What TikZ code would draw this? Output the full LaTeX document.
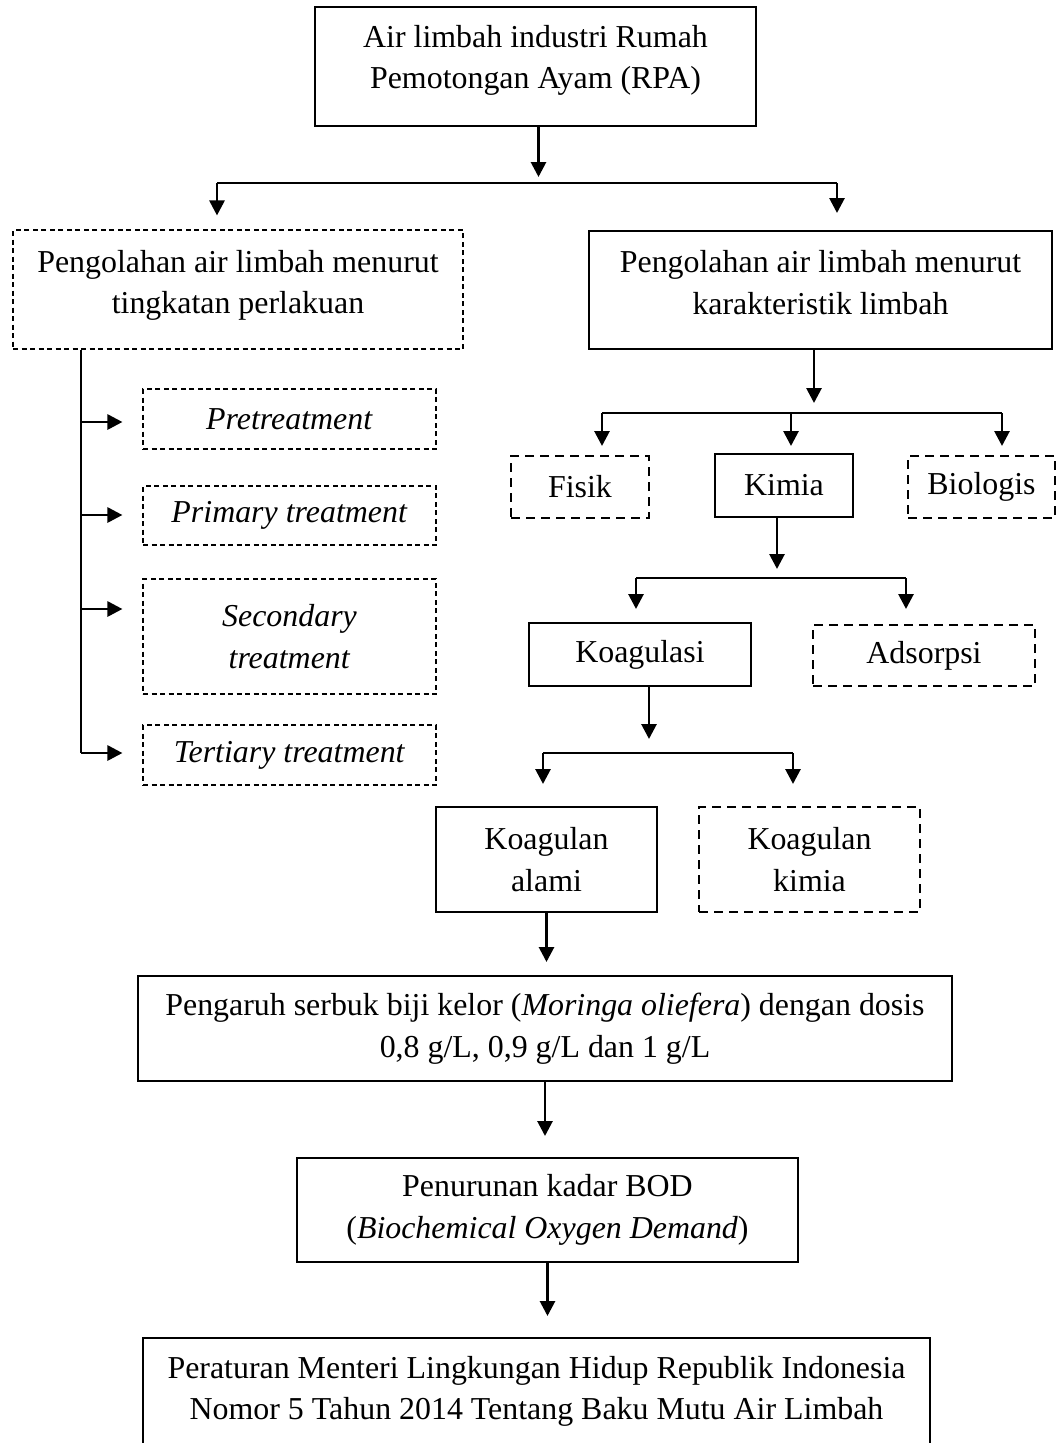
\documentclass[tikz,border=0pt]{standalone}
\usepackage{fontspec}
\setmainfont{Liberation Serif}
\usetikzlibrary{arrows.meta,positioning}

\begin{document}
\begin{tikzpicture}[x=1pt,y=-1pt,
  every node/.style={inner sep=0pt,align=center,font=\fontsize{31.9}{41.5}\selectfont},
  solidbox/.style={draw=black,line width=2pt},
  dashbox/.style={draw=black,line width=2pt,dash pattern=on 9pt off 6pt},
  dotbox/.style={draw=black,line width=1.1pt,dash pattern=on 5pt off 3.5pt},
  conn/.style={-,black,line width=2.8pt},
  arr/.style={conn,-{Triangle[length=15pt,width=15pt]}}]
\useasboundingbox (0,0) rectangle (1057,1443);

\node (top) at (535.5,66.5) [solidbox,minimum width=441pt,minimum height=119pt,text depth=19pt]{Air limbah industri Rumah\\Pemotongan Ayam (RPA)};
\node (tingkat) at (238,289.5) [dotbox,minimum width=450pt,minimum height=119pt,text depth=15pt]{Pengolahan air limbah menurut\\tingkatan perlakuan};
\node (karakter) at (820.5,290) [solidbox,minimum width=463pt,minimum height=118pt,text depth=15pt]{Pengolahan air limbah menurut\\karakteristik limbah};

% tingkatan perlakuan
\node (pre) at (289.5,419) [dotbox,minimum width=293pt,minimum height=60pt]{\textit{Pretreatment}};
\node (prim) at (289.5,515.5) [dotbox,minimum width=293pt,minimum height=59pt]{\textit{Primary treatment}};
\node (sec) at (289.5,636.5) [dotbox,minimum width=293pt,minimum height=115pt]{\textit{Secondary}\\\textit{treatment}};
\node (ter) at (289.5,755) [dotbox,minimum width=293pt,minimum height=60pt]{\textit{Tertiary treatment}};

% karakteristik limbah
\node (fisik) at (580,487) [dashbox,minimum width=138pt,minimum height=62pt]{Fisik};
\node (kimia) at (784,485.5) [solidbox,minimum width=138pt,minimum height=63pt]{Kimia};
\node (bio) at (981.5,487) [dashbox,minimum width=147pt,minimum height=62pt]{Biologis};
\node (koag) at (640,654.5) [solidbox,minimum width=222pt,minimum height=63pt]{Koagulasi};
\node (adsor) at (924,655.5) [dashbox,minimum width=222pt,minimum height=61pt]{Adsorpsi};
\node (alami) at (546.5,859.5) [solidbox,minimum width=221pt,minimum height=105pt]{Koagulan\\alami};
\node (kkimia) at (809.5,859.5) [dashbox,minimum width=221pt,minimum height=105pt]{Koagulan\\kimia};

\node (pengaruh) at (545,1028.5) [solidbox,minimum width=814pt,minimum height=105pt]{Pengaruh serbuk biji kelor (\textit{Moringa oliefera}) dengan dosis\\0,8 g/L, 0,9 g/L dan 1 g/L};
\node (turun) at (547.5,1210) [solidbox,minimum width=501pt,minimum height=104pt]{Penurunan kadar BOD\\(\textit{Biochemical Oxygen Demand})};
\node (aturan) at (536.5,1391.5) [solidbox,minimum width=787pt,minimum height=107pt]{Peraturan Menteri Lingkungan Hidup Republik Indonesia\\Nomor 5 Tahun 2014 Tentang Baku Mutu Air Limbah};

% cabang utama
\coordinate (b1l) at (217,183);
\coordinate (b1r) at (837,183);
\draw[conn] (b1l) -- (b1r);
\draw[arr,shorten >=6pt] ([xshift=3pt]top.south) -- ([xshift=3pt]top.south |- b1l);
\draw[arr,shorten >=14pt] (b1l) -- (b1l |- tingkat.north);
\draw[arr,shorten >=17pt] (b1r) -- (b1r |- karakter.north);

% cabang kiri
\foreach \n/\y in {pre/422,prim/515,sec/609,ter/753}{
  \coordinate (t-\n) at (81,\y);
  \draw[arr,shorten >=20pt] (t-\n) -- (t-\n -| \n.west);
}
\draw[conn] (tingkat.south -| t-pre) -- (t-ter);

% cabang kanan
\coordinate (b2l) at (602,413);
\coordinate (b2m) at (791,413);
\coordinate (b2r) at (1002,413);
\draw[conn] (b2l) -- (b2r);
\draw[arr,shorten >=10pt] ([xshift=-6.5pt]karakter.south) -- ([xshift=-6.5pt]karakter.south |- b2l);
\draw[arr,shorten >=9pt] (b2l) -- (b2l |- fisik.north);
\draw[arr,shorten >=7pt] (b2m) -- (b2m |- kimia.north);
\draw[arr,shorten >=9pt] (b2r) -- (b2r |- bio.north);

\coordinate (b3l) at (636,578);
\coordinate (b3r) at (906,578);
\draw[conn] (b3l) -- (b3r);
\draw[arr,shorten >=9pt] ([xshift=-7pt]kimia.south) -- ([xshift=-7pt]kimia.south |- b3l);
\draw[arr,shorten >=13pt] (b3l) -- (b3l |- koag.north);
\draw[arr,shorten >=15pt] (b3r) -- (b3r |- adsor.north);

\coordinate (b4l) at (543,753);
\coordinate (b4r) at (793,753);
\draw[conn] (b4l) -- (b4r);
\draw[arr,shorten >=14pt] ([xshift=9pt]koag.south) -- ([xshift=9pt]koag.south |- b4l);
\draw[arr,shorten >=22pt] (b4l) -- (b4l |- alami.north);
\draw[arr,shorten >=22pt] (b4r) -- (b4r |- kkimia.north);

% alur bawah
\draw[arr,shorten >=13pt] (alami) -- (alami |- pengaruh.north);
\draw[arr,shorten >=21pt] (pengaruh) -- (pengaruh |- turun.north);
\draw[arr,shorten >=21pt] (turun) -- (turun |- aturan.north);
\end{tikzpicture}
\end{document}
